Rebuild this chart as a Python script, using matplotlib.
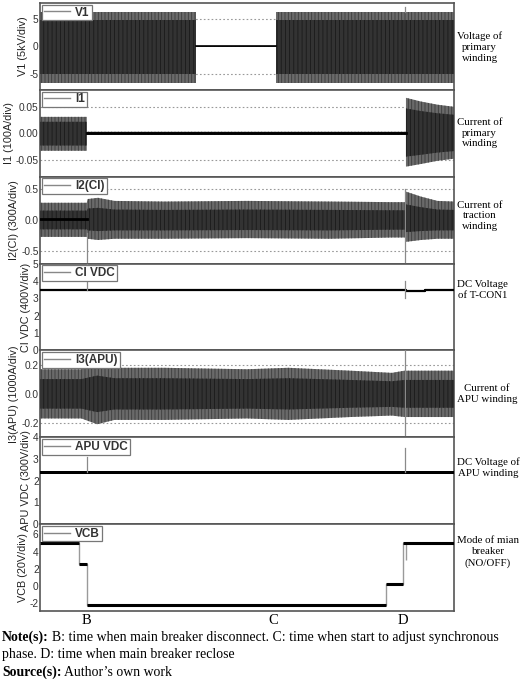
import matplotlib.pyplot as plt
from matplotlib.ticker import FixedLocator, FixedFormatter

# time axis in arbitrary units (0..10), event times
event_names = ['B', 'C', 'D']
event_times = [1.13, 5.63, 8.77]

# V1 envelope (kV/div units)
v1_t = [0.0, 3.77, 3.77, 5.70, 5.70, 10.0]
v1_hi = [6.4, 6.4, 0.1, 0.1, 6.4, 6.4]
v1_lo = [-6.8, -6.8, -0.1, -0.1, -6.8, -6.8]

# I1 envelope
i1_t = [0.0, 1.13, 1.13, 8.84, 8.84, 9.2, 9.6, 10.0]
i1_hi = [0.031, 0.031, 0.003, 0.003, 0.067, 0.060, 0.054, 0.050]
i1_lo = [-0.033, -0.033, -0.003, -0.003, -0.063, -0.058, -0.052, -0.048]

# I2(CI) envelope
i2_t = [0.0, 1.13, 1.15, 1.4, 1.8, 3.0, 5.0, 7.0, 8.5, 8.82, 8.84, 9.2, 9.6, 10.0]
i2_hi = [0.28, 0.28, 0.34, 0.36, 0.31, 0.30, 0.31, 0.30, 0.29, 0.29, 0.46, 0.38, 0.31, 0.30]
i2_lo = [-0.27, -0.27, -0.30, -0.32, -0.30, -0.30, -0.29, -0.30, -0.28, -0.28, -0.35, -0.32, -0.30, -0.30]

# CI VDC level
ci_t = [0.0, 8.84, 8.84, 9.3, 9.3, 10.0]
ci_v = [3.5, 3.5, 3.42, 3.42, 3.46, 3.46]

# I3(APU) envelope
i3_t = [0.0, 1.0, 1.38, 1.8, 3.0, 5.0, 6.0, 7.5, 8.5, 8.8, 9.2, 10.0]
i3_hi = [0.17, 0.17, 0.21, 0.18, 0.18, 0.17, 0.18, 0.16, 0.145, 0.16, 0.16, 0.16]
i3_lo = [-0.17, -0.17, -0.21, -0.18, -0.18, -0.17, -0.18, -0.16, -0.15, -0.16, -0.16, -0.16]

# APU VDC level
apu_t = [0.0, 8.84, 8.84, 10.0]
apu_v = [2.38, 2.38, 2.38, 2.38]
apu_w = [0.09, 0.09, 0.05, 0.05]

# VCB steps
vcb_t = [0.0, 0.94, 1.13, 8.36, 8.77, 10.0]
vcb_v = [5.0, 2.55, -2.2, 0.2, 5.0, 5.0]

labels = ['V1', 'I1', 'I2(CI)', 'CI VDC', 'I3(APU)', 'APU VDC', 'VCB']
ylabels = ['V1 (5kV/div)', 'I1 (100A/div)', 'I2(CI) (300A/div)', 'CI VDC (400V/div)',
           'I3(APU) (1000A/div)', 'APU VDC (300V/div)', 'VCB (20V/div)']
ylims = [(-8, 8), (-0.082, 0.082), (-0.7, 0.7), (0, 5), (-0.3, 0.3), (0, 4), (-2.9, 7.2)]
yticks = [[-5, 0, 5], [-0.05, 0.0, 0.05], [-0.5, 0.0, 0.5], [0, 1, 2, 3, 4, 5],
          [-0.2, 0.0, 0.2], [0, 1, 2, 3, 4], [-2, 0, 2, 4, 6]]
yticklabels = [['-5', '0', '5'], ['-0.05', '0.00', '0.05'], ['-0.5', '0.0', '0.5'],
               ['0', '1', '2', '3', '4', '5'], ['-0.2', '0.0', '0.2'],
               ['0', '1', '2', '3', '4'], ['-2', '0', '2', '4', '6']]
grid_levels = [[-5, 5], [-0.05, 0.05], [-0.5, 0.5], [], [-0.2, 0.2], [], []]
right_notes = ['Voltage of\nprimary\nwinding', 'Current of\nprimary\nwinding',
               'Current of\ntraction\nwinding', 'DC Voltage\nof T-CON1',
               'Current of\nAPU winding', 'DC Voltage of\nAPU winding',
               'Mode of mian\nbreaker\n(NO/OFF)']
right_note_y = [47, 133, 216, 290, 394, 468, 552]

# marker spikes: (panel, time, ymin, ymax)
spikes = [(2, 1.13, -0.7, -0.2), (3, 1.13, 3.5, 5.0), (2, 8.82, -0.7, 0.5),
          (3, 8.82, 3.0, 4.0), (4, 8.82, -0.3, 0.3), (5, 1.13, 2.38, 3.1),
          (5, 8.82, 2.38, 3.5), (0, 8.82, 6.4, 7.2)]

plt.rcParams['font.family'] = ['Liberation Sans', 'DejaVu Sans']
plt.rcParams['hatch.linewidth'] = 0.6

fig = plt.figure(figsize=(5.2, 6.8), dpi=100)
left, right, top, bottom = 40 / 520, 454 / 520, 1 - 3 / 680, 1 - 611 / 680
ph = (top - bottom) / 7
axes = []
for k in range(7):
    ax = fig.add_axes([left, top - (k + 1) * ph, right - left, ph])
    axes.append(ax)


def band(ax, t, hi, lo, inner=0.6):
    ax.fill_between(t, lo, hi, facecolor='#6a6a6a', edgecolor='#3c3c3c',
                    hatch='|||||', linewidth=0, zorder=2)
    ihi = [h * inner for h in hi]
    ilo = [l * inner for l in lo]
    ax.fill_between(t, ilo, ihi, facecolor='#333333', edgecolor='#1a1a1a',
                    hatch='||||', linewidth=0, zorder=3)


band(axes[0], v1_t, v1_hi, v1_lo, inner=0.75)
axes[0].plot([3.77, 5.70], [0, 0], color='black', lw=1.2, zorder=4)

band(axes[1], i1_t, i1_hi, i1_lo, inner=0.7)
axes[1].plot([1.13, 8.84], [0, 0], color='black', lw=2.0, zorder=4)

band(axes[2], i2_t, i2_hi, i2_lo, inner=0.55)
axes[2].plot([0, 1.13], [0.02, 0.02], color='black', lw=2.0, zorder=4)

axes[3].plot(ci_t, ci_v, color='black', lw=1.6, zorder=4)

band(axes[4], i3_t, i3_hi, i3_lo, inner=0.6)

apu_hi = [v + w for v, w in zip(apu_v, apu_w)]
apu_lo = [v - w for v, w in zip(apu_v, apu_w)]
axes[5].fill_between(apu_t, apu_lo, apu_hi, color='black', linewidth=0, zorder=4)

axes[6].step(vcb_t, vcb_v, where='post', color='#9a9a9a', lw=1.0, zorder=3)
axes[6].hlines(vcb_v[:-1], vcb_t[:-1], vcb_t[1:], colors='black', lw=2.2, zorder=4)
axes[6].vlines([8.84], [3.0], [5.0], colors='#9a9a9a', lw=1.0, zorder=3)

for p, t, y0, y1 in spikes:
    axes[p].plot([t, t], [y0, y1], color='#8a8a8a', lw=0.9, zorder=5)

for k, ax in enumerate(axes):
    ax.set_xlim(0, 10)
    ax.set_ylim(*ylims[k])
    ax.yaxis.set_major_locator(FixedLocator(yticks[k]))
    ax.yaxis.set_major_formatter(FixedFormatter(yticklabels[k]))
    ax.tick_params(axis='y', length=0, pad=1, labelsize=7.3, colors='#333333')
    ax.set_xticks([])
    for lv in grid_levels[k]:
        ax.axhline(lv, color='#999999', lw=0.8, ls=(0, (1.5, 2.0)), zorder=1)
    for s in ax.spines.values():
        s.set_color('#555555')
        s.set_linewidth(1.2)
    ax.set_ylabel(ylabels[k], fontsize=7.8, labelpad=1.5, color='#222222')
    ax.plot([], [], color='#888888', lw=1.0, label=labels[k])
    leg = ax.legend(loc='upper left', fontsize=8.5, frameon=True, fancybox=False,
                    borderpad=0.15, handlelength=2.2, handletextpad=0.5,
                    borderaxespad=0.15, framealpha=1)
    leg.get_frame().set_edgecolor('#777777')
    leg.get_frame().set_linewidth(0.9)
    for txt in leg.get_texts():
        txt.set_fontweight('bold')
        txt.set_color('#333333')
    leg.set_zorder(10)
    fig.text(457 / 520, 1 - right_note_y[k] / 680, right_notes[k], ha='left', va='center',
             multialignment='center', fontsize=7.8, family='Liberation Serif',
             linespacing=1.25)

for name, t in zip(event_names, event_times):
    axes[-1].text(t, -0.035, name, transform=axes[-1].get_xaxis_transform(),
                  ha='center', va='top', fontsize=10.5, family='Liberation Serif')

serif = 'Liberation Serif'
fig.canvas.draw()
renderer = fig.canvas.get_renderer()


def rich_line(x, y, bold, rest, size=9.9):
    t1 = fig.text(x, y, bold, fontsize=size, family=serif, fontweight='bold', va='baseline')
    bb = t1.get_window_extent(renderer)
    x2 = x + bb.width / fig.bbox.width + 3 / 520
    fig.text(x2, y, rest, fontsize=size, family=serif, va='baseline')


rich_line(2 / 520, 1 - 641 / 680, 'Note(s):',
          'B: time when main breaker disconnect. C: time when start to adjust synchronous')
fig.text(2 / 520, 1 - 658 / 680, 'phase. D: time when main breaker reclose',
         fontsize=9.9, family=serif, va='baseline')
rich_line(2 / 520, 1 - 676 / 680, 'Source(s):', 'Author\u2019s own work')

fig.savefig('out.png', dpi=100)
